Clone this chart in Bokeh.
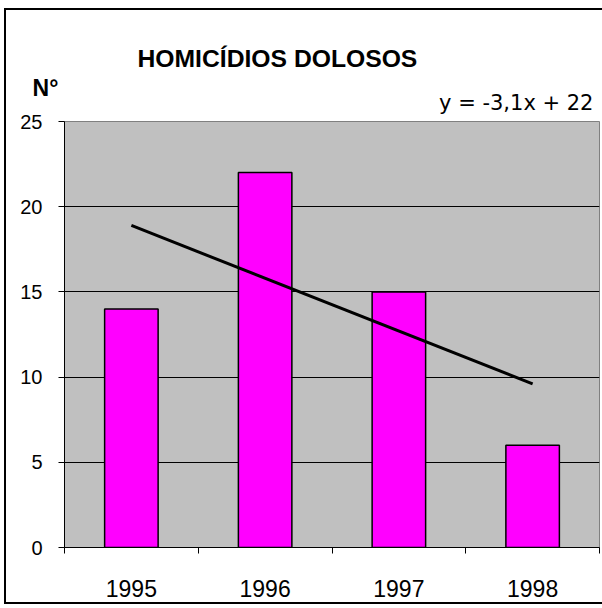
from bokeh.plotting import figure
from bokeh.models import FixedTicker, Label, Range1d
from bokeh.embed import file_html
from bokeh.resources import INLINE

years = ["1995", "1996", "1997", "1998"]
positions = [1, 2, 3, 4]
homicidios = [14, 22, 15, 6]
trend_x = [1, 4]
trend_y = [18.9, 9.6]
y_ticks = [0, 5, 10, 15, 20, 25]
grid_ticks = [5, 10, 15, 20]
category_edges = [0.5, 1.5, 2.5, 3.5, 4.5]

p = figure(width=602, height=608, output_backend="svg", toolbar_location=None,
           x_range=Range1d(0.5, 4.5), y_range=Range1d(0, 25),
           min_border_left=64, min_border_right=3, min_border_top=121, min_border_bottom=61)
line = "linear-gradient(#000,#000)"
p.styles = {"background": (f"{line} 4px 8px / 2px 596px no-repeat, "
                           f"{line} 4px 8px / 598px 2px no-repeat, "
                           f"{line} 4px 602px / 598px 2px no-repeat, #fff")}
p.background_fill_color = "#C0C0C0"
p.border_fill_color = None
p.outline_line_color = "#808080"
p.outline_line_width = 1

p.vbar(x=positions, top=homicidios, width=0.4, bottom=0,
       fill_color="#FF00FF", line_color="black", line_width=1.5)
p.line(trend_x, trend_y, line_color="black", line_width=3)

# axes
p.xaxis.ticker = FixedTicker(ticks=positions, minor_ticks=category_edges)
p.xaxis.major_label_overrides = {pos: yr for pos, yr in zip(positions, years)}
p.xaxis.major_tick_out = 0
p.xaxis.major_tick_in = 0
p.xaxis.minor_tick_out = 6
p.xaxis.minor_tick_in = 0
p.xaxis.minor_tick_line_color = "black"
p.xaxis.axis_line_color = "black"
p.xaxis.major_label_standoff = 26
p.xaxis.major_label_text_font = "Liberation Sans"
p.xaxis.major_label_text_font_size = "23px"
p.xaxis.major_label_text_color = "black"

p.yaxis.ticker = FixedTicker(ticks=y_ticks)
p.yaxis.minor_tick_line_color = None
p.yaxis.major_tick_out = 6
p.yaxis.major_tick_in = 0
p.yaxis.major_tick_line_color = "black"
p.yaxis.axis_line_color = "black"
p.yaxis.major_label_standoff = 16
p.yaxis.major_label_text_font = "Liberation Sans"
p.yaxis.major_label_text_font_size = "20px"
p.yaxis.major_label_text_color = "black"

p.xgrid.grid_line_color = None
p.ygrid.ticker = FixedTicker(ticks=grid_ticks)
p.ygrid.grid_line_color = "black"
p.ygrid.grid_line_width = 1

# texts above the frame, placed with the plot's own data scales
p.add_layout(Label(x=1.046, y=28.70, text="HOMICÍDIOS DOLOSOS",
                   text_font="Liberation Sans", text_font_style="bold",
                   text_font_size="24.7px", text_color="black",
                   text_baseline="alphabetic"), "above")
p.add_layout(Label(x=0.261, y=26.94, text="N°", text_font="Liberation Sans",
                   text_font_style="bold", text_font_size="23px",
                   text_color="black", text_baseline="alphabetic"), "above")
p.add_layout(Label(x=4.455, y=26.06, text="y = -3,1x + 22",
                   text_font="DejaVu Sans", text_font_size="21px",
                   text_color="black", text_align="right",
                   text_baseline="alphabetic"), "above")

open("out.html", "w").write(file_html(p, INLINE))
